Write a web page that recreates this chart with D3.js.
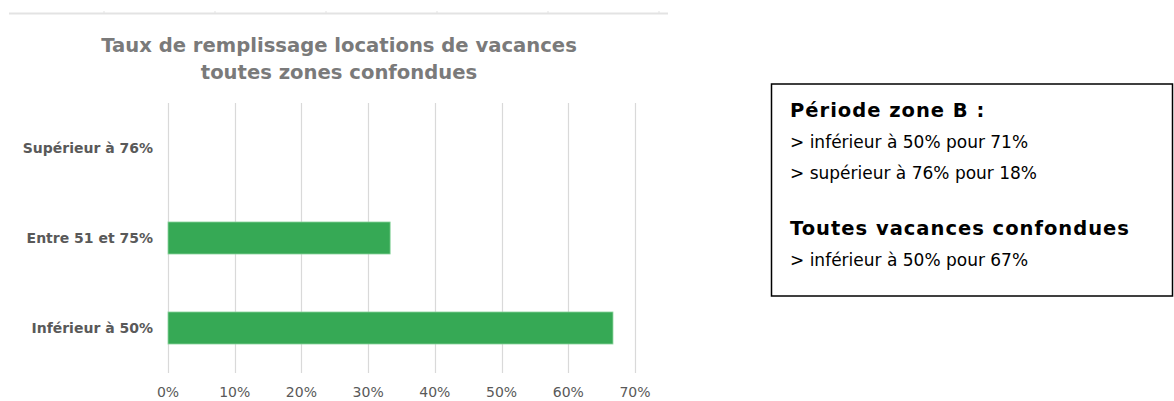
<!DOCTYPE html>
<html>
<head>
<meta charset="utf-8">
<script src="https://cdn.jsdelivr.net/npm/d3@7"></script>
<style>
  body { margin: 0; background: #fff; }
  svg { display: block; }
</style>
</head>
<body>
<div id="chart"></div>
<script>
"use strict";

// Size of SVG
const w = 1174;
const h = 401;

// Data
const categories = ["Supérieur à 76%", "Entre 51 et 75%", "Inférieur à 50%"];
const values = [0, 33.3, 66.7];
const ticks = [0, 10, 20, 30, 40, 50, 60, 70];
const titleLines = ["Taux de remplissage locations de vacances", "toutes zones confondues"];
const noteLines = [
  { text: "Période zone B :", bold: true },
  { text: "> inférieur à 50% pour 71%", bold: false },
  { text: "> supérieur à 76% pour 18%", bold: false },
  { text: "Toutes vacances confondues", bold: true },
  { text: "> inférieur à 50% pour 67%", bold: false }
];
const noteBaselines = [117, 148, 179, 235, 266];

const font = "'DejaVu Sans', sans-serif";

const svg = d3.select("#chart")
  .append("svg")
  .attr("width", w)
  .attr("height", h);

// Leftover edge of the chart above
svg.append("line")
  .attr("x1", 9).attr("x2", 668)
  .attr("y1", 13.5).attr("y2", 13.5)
  .attr("stroke", "#e3e3e3")
  .attr("stroke-width", 2);
[104, 215, 326, 437, 548, 659].forEach(function (tx) {
  svg.append("line")
    .attr("x1", tx).attr("x2", tx)
    .attr("y1", 11).attr("y2", 13)
    .attr("stroke", "#e3e3e3");
});

// Scales
const x = d3.scaleLinear()
  .domain([0, 70])
  .range([168, 635]);

const y = d3.scaleBand()
  .domain(categories)
  .range([103, 373])
  .paddingInner(0.644)
  .paddingOuter(0.322);

// Gridlines
svg.append("g")
  .selectAll("line")
  .data(ticks)
  .enter()
  .append("line")
  .attr("x1", d => Math.round(x(d)) + 0.5)
  .attr("x2", d => Math.round(x(d)) + 0.5)
  .attr("y1", 103)
  .attr("y2", 373)
  .attr("stroke", "#d9d9d9")
  .attr("stroke-width", 1.2);

// Bars
svg.append("g")
  .selectAll("rect")
  .data(values)
  .enter()
  .append("rect")
  .attr("x", x(0))
  .attr("y", (d, i) => y(categories[i]))
  .attr("width", d => x(d) - x(0))
  .attr("height", y.bandwidth())
  .attr("fill", "#36a955")
  .attr("stroke", d => d > 0 ? "#8fd6a0" : "none")
  .attr("stroke-width", 0.8);

// Category labels
svg.append("g")
  .selectAll("text")
  .data(categories)
  .enter()
  .append("text")
  .attr("x", 153)
  .attr("y", d => y(d) + y.bandwidth() / 2)
  .attr("dy", "0.35em")
  .attr("text-anchor", "end")
  .style("font-family", font)
  .style("font-weight", "bold")
  .style("font-size", "14px")
  .style("fill", "#595959")
  .text(d => d);

// Tick labels
svg.append("g")
  .selectAll("text")
  .data(ticks)
  .enter()
  .append("text")
  .attr("x", d => x(d))
  .attr("y", 392)
  .attr("dy", "0.35em")
  .attr("text-anchor", "middle")
  .style("font-family", font)
  .style("font-size", "14px")
  .style("fill", "#595959")
  .text(d => d + "%");

// Title
svg.append("g")
  .selectAll("text")
  .data(titleLines)
  .enter()
  .append("text")
  .attr("x", 339)
  .attr("y", (d, i) => 52 + i * 27)
  .attr("text-anchor", "middle")
  .style("font-family", font)
  .style("font-weight", "bold")
  .style("font-size", "19.6px")
  .style("fill", "#7a7a7a")
  .text(d => d);

// Note box
svg.append("rect")
  .attr("x", 771.5)
  .attr("y", 84)
  .attr("width", 401)
  .attr("height", 212)
  .attr("fill", "#fff")
  .attr("stroke", "#000")
  .attr("stroke-width", 1.5);

svg.append("g")
  .selectAll("text")
  .data(noteLines)
  .enter()
  .append("text")
  .attr("x", 790)
  .attr("y", (d, i) => noteBaselines[i])
  .style("font-family", font)
  .style("font-weight", d => d.bold ? "bold" : "normal")
  .style("font-size", d => d.bold ? "19.5px" : "17px")
  .style("letter-spacing", d => d.bold ? "1px" : "0px")
  .style("fill", "#000")
  .text(d => d.text);
</script>
</body>
</html>
